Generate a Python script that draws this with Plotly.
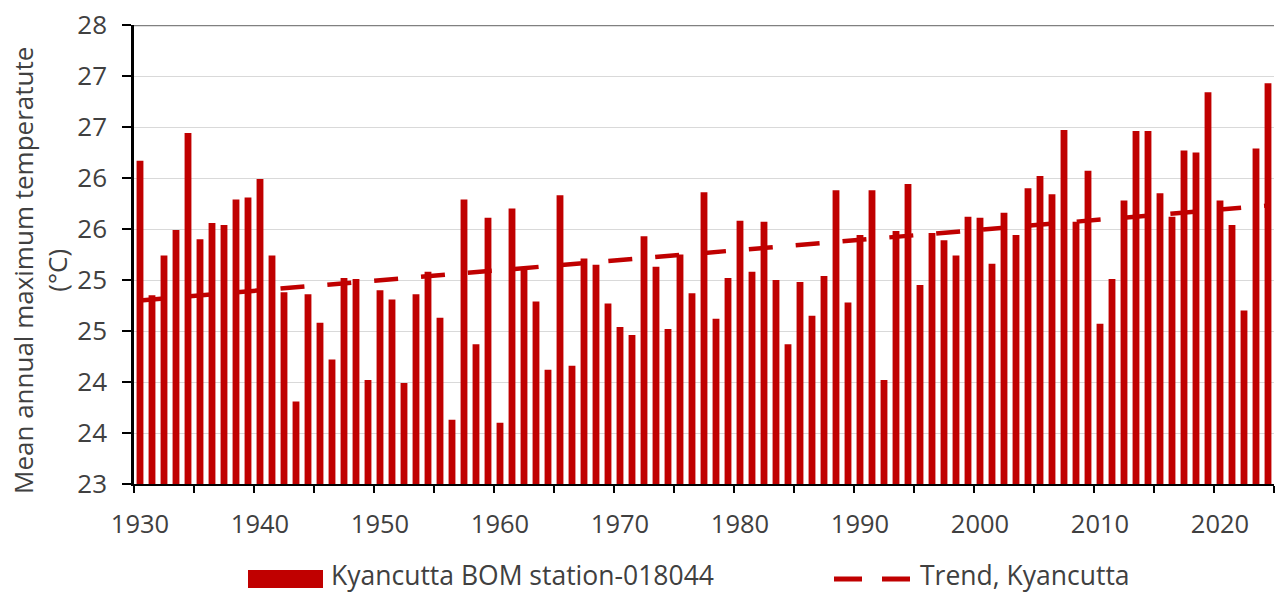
import plotly.graph_objects as go

# ---------------- data ----------------
years = list(range(1930, 2025))
tmax = [
    26.17, 24.85, 25.24, 25.49, 26.44, 25.40, 25.56, 25.54, 25.79, 25.81,  # 1930s
    25.99, 25.24, 24.88, 23.81, 24.86, 24.58, 24.22, 25.02, 25.01, 24.02,  # 1940s
    24.90, 24.81, 23.99, 24.86, 25.08, 24.63, 23.63, 25.79, 24.37, 25.61,  # 1950s
    23.60, 25.70, 25.12, 24.79, 24.12, 25.83, 24.16, 25.21, 25.15, 24.77,  # 1960s
    24.54, 24.46, 25.43, 25.13, 24.52, 25.25, 24.87, 25.86, 24.62, 25.02,  # 1970s
    25.58, 25.08, 25.57, 25.00, 24.37, 24.98, 24.65, 25.04, 25.88, 24.78,  # 1980s
    25.44, 25.88, 24.02, 25.48, 25.94, 24.95, 25.46, 25.39, 25.24, 25.62,  # 1990s
    25.61, 25.16, 25.66, 25.44, 25.90, 26.02, 25.84, 26.47, 25.57, 26.07,  # 2000s
    24.57, 25.01, 25.78, 26.46, 26.46, 25.85, 25.62, 26.27, 26.25, 26.84,  # 2010s
    25.78, 25.54, 24.70, 26.29, 26.93,                                     # 2020s
]
trend_years = [1930, 2024]
trend_vals = [24.80, 25.73]

y_tickvals = [23, 23.5, 24, 24.5, 25, 25.5, 26, 26.5, 27, 27.5]
y_ticktext = ["23", "24", "24", "25", "25", "26", "26", "27", "27", "28"]
x_tickvals = [1930, 1940, 1950, 1960, 1970, 1980, 1990, 2000, 2010, 2020]
x_ticktext = [str(v) for v in x_tickvals]

series_name = "Kyancutta BOM station-018044"
trend_name = "Trend, Kyancutta"
y_title = "Mean annual maximum temperatute<br>(°C)"

# ---------------- style ----------------
RED = "#C00000"
TXT = "#404040"
FONT = "Open Sans"
W, H = 1275, 592
ML, MR, MT, MB = 134, 1, 25, 108
PW, PH = W - ML - MR, H - MT - MB


def px_x(px):
    return (px - ML) / PW


def px_y(py):
    return (H - MB - py) / PH


fig = go.Figure()
fig.add_bar(x=years, y=tmax, name=series_name, showlegend=False,
            marker=dict(color=RED, line_width=0))
fig.add_scatter(x=trend_years, y=trend_vals, mode="lines", name=trend_name,
                showlegend=False,
                line=dict(color=RED, width=4.5, dash="24px,23px"))

fig.update_layout(
    width=W, height=H,
    margin=dict(l=ML, r=MR, t=MT, b=MB, pad=0),
    plot_bgcolor="white", paper_bgcolor="white",
    bargap=0.43,
    font=dict(family=FONT, size=26, color=TXT),
)

fig.update_xaxes(
    range=[1929.5, 2024.5],
    tickmode="array", tickvals=x_tickvals, ticktext=x_ticktext,
    ticks="", showline=True, linecolor="#000000", linewidth=1.5,
    showgrid=False, zeroline=False,
    minor=dict(tickmode="linear", tick0=1929.5, dtick=5, ticks="outside",
               ticklen=7, tickcolor="#000000", tickwidth=1.5, showgrid=False),
    ticklabelstandoff=17,
    tickfont=dict(size=25.5, color=TXT),
)
fig.update_yaxes(
    range=[23, 27.5],
    tickmode="array", tickvals=y_tickvals, ticktext=y_ticktext,
    ticks="outside", ticklen=9, tickcolor="#000000", tickwidth=1.5,
    showline=True, linecolor="#000000", linewidth=2.5,
    showgrid=True, gridcolor="#D9D9D9", gridwidth=1.2, zeroline=False,
    ticklabelstandoff=10,
    tickfont=dict(size=26, color=TXT),
)

# y-axis title (two lines, rotated)
fig.add_annotation(xref="paper", yref="paper", x=px_x(40), y=px_y(271),
                   text=y_title, showarrow=False, textangle=-90,
                   xanchor="center", yanchor="middle",
                   font=dict(size=26, color=TXT))

# top border line of plot area
fig.add_shape(type="line", xref="paper", yref="y", x0=0, x1=1, y0=27.5, y1=27.5,
              line=dict(color="#808080", width=2.5), layer="above")

# custom legend (bottom)
fig.add_shape(type="rect", xref="paper", yref="paper",
              x0=px_x(248), x1=px_x(323), y0=px_y(588), y1=px_y(570),
              fillcolor=RED, line_width=0)
fig.add_annotation(xref="paper", yref="paper", x=px_x(329), y=px_y(575),
                   text=series_name, showarrow=False, xanchor="left", yanchor="middle",
                   font=dict(size=26.5, color=TXT))
fig.add_shape(type="line", xref="paper", yref="paper",
              x0=px_x(834), x1=px_x(912), y0=px_y(579), y1=px_y(579),
              line=dict(color=RED, width=5, dash="28px,20px"))
fig.add_annotation(xref="paper", yref="paper", x=px_x(918), y=px_y(575),
                   text=trend_name, showarrow=False, xanchor="left", yanchor="middle",
                   font=dict(size=26.5, color=TXT))

fig.write_html("out.html")
